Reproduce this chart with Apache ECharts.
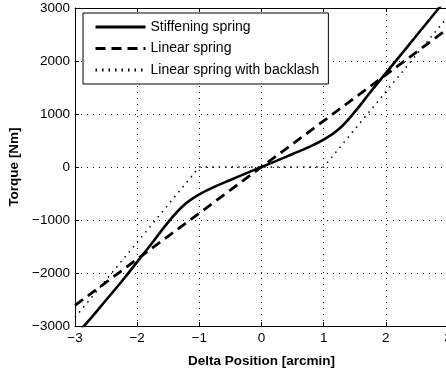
<!DOCTYPE html>
<html>
<head>
<meta charset="utf-8">
<script src="https://cdn.jsdelivr.net/npm/echarts@6/dist/echarts.min.js"></script>
<style>
html,body{margin:0;padding:0;background:#fff;}
#chart{width:446px;height:370px;}
</style>
</head>
<body>
<div id="chart"></div>
<script>
// Data
const seriesNames = ['Stiffening spring', 'Linear spring', 'Linear spring with backlash'];
const stiffX = [-3, -2.75, -2.5, -2.25, -2, -1.75, -1.5, -1.25, -1, -0.75, -0.5, -0.25, 0, 0.25, 0.5, 0.75, 1, 1.25, 1.5, 1.75, 2, 2.25, 2.5, 2.75, 3];
const stiffY = [-3180, -2860, -2510, -2160, -1790, -1420, -1040, -720, -515, -370, -245, -120, 0, 120, 245, 370, 515, 720, 1040, 1410, 1770, 2130, 2490, 2850, 3210];
const linX = [-3, 3];
const linY = [-2610, 2610];
const backX = [-3, -1, 1, 3];
const backY = [-2840, 0, 0, 2840];
const xTicks = [-3, -2, -1, 0, 1, 2, 3];
const yTicks = [-3000, -2000, -1000, 0, 1000, 2000, 3000];

const pairs = (xs, ys) => xs.map((x, i) => [x, ys[i]]);
const fmt = v => (v < 0 ? '\u2212' + Math.abs(v) : String(v));
const FONT = 'Liberation Sans, Arial, Helvetica, sans-serif';

const chart = echarts.init(document.getElementById('chart'), null, {renderer: 'canvas'});
chart.setOption({
  animation: false,
  backgroundColor: '#fff',
  textStyle: {fontFamily: FONT},
  grid: {left: 75, top: 8, right: -2, bottom: 44, containLabel: false, outerBoundsMode: 'none'},
  legend: {
    orient: 'vertical',
    left: 83, top: 13,
    padding: [7, 9, 7, 11],
    itemWidth: 50, itemHeight: 14, itemGap: 7.5,
    backgroundColor: '#fff',
    borderColor: '#000', borderWidth: 1,
    itemStyle: {opacity: 0},
    lineStyle: {width: 3},
    textStyle: {fontFamily: FONT, fontSize: 14, color: '#000', padding: [0, 0, 0, 0]},
    data: seriesNames
  },
  xAxis: [{
    type: 'value', min: -3, max: 3, interval: 1,
    name: 'Delta Position [arcmin]', nameLocation: 'middle', nameGap: 28,
    nameTextStyle: {fontFamily: FONT, fontSize: 13.5, fontWeight: 'bold', color: '#000'},
    axisLine: {show: true, onZero: false, lineStyle: {color: '#000', width: 1}},
    axisTick: {show: true, inside: true, length: 4, lineStyle: {color: '#000'}},
    axisLabel: {fontFamily: FONT, fontSize: 13.5, color: '#000', margin: 5, formatter: fmt},
    splitLine: {show: true, lineStyle: {color: '#000', width: 1, type: [1, 5]}}
  }, {
    type: 'value', min: -3, max: 3, interval: 1, position: 'top',
    axisLine: {show: true, onZero: false, lineStyle: {color: '#000', width: 1}},
    axisTick: {show: true, inside: true, length: 4, lineStyle: {color: '#000'}},
    axisLabel: {show: false}, splitLine: {show: false}
  }],
  yAxis: [{
    type: 'value', min: -3000, max: 3000, interval: 1000,
    name: 'Torque [Nm]', nameLocation: 'middle', nameGap: 54, nameRotate: 90,
    nameTextStyle: {fontFamily: FONT, fontSize: 13.5, fontWeight: 'bold', color: '#000'},
    axisLine: {show: true, onZero: false, lineStyle: {color: '#000', width: 1}},
    axisTick: {show: true, inside: true, length: 4, lineStyle: {color: '#000'}},
    axisLabel: {fontFamily: FONT, fontSize: 13.5, color: '#000', margin: 5, formatter: fmt},
    splitLine: {show: true, lineStyle: {color: '#000', width: 1, type: [1, 5]}}
  }],
  series: [{
    name: seriesNames[0], type: 'line', data: pairs(stiffX, stiffY),
    smooth: 0.4, symbol: 'none', clip: true, z: 4,
    lineStyle: {color: '#000', width: 2.6, type: 'solid'}, itemStyle: {color: '#000'}
  }, {
    name: seriesNames[1], type: 'line', data: pairs(linX, linY),
    symbol: 'none', clip: true, z: 3,
    lineStyle: {color: '#000', width: 2.8, type: [10, 6]}, itemStyle: {color: '#000'}
  }, {
    name: seriesNames[2], type: 'line', data: pairs(backX, backY),
    symbol: 'none', clip: true, z: 2,
    lineStyle: {color: '#000', width: 1.5, type: [1.5, 5]}, itemStyle: {color: '#000'}
  }]
});
</script>
</body>
</html>
